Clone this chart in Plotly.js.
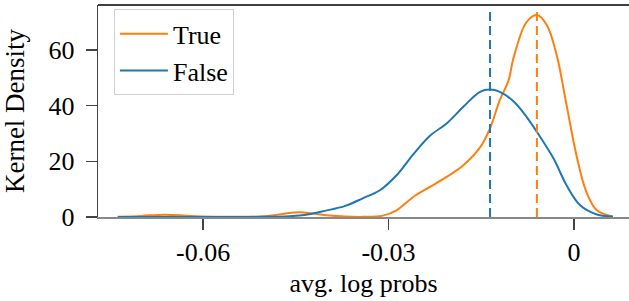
<!DOCTYPE html>
<html>
<head>
<meta charset="utf-8">
<script src="https://cdn.plot.ly/plotly-3.0.1.min.js"></script>
<style>html,body{margin:0;padding:0;background:#fff;}#chart{width:629px;height:301px;}</style>
</head>
<body>
<div id="chart"></div>
<script>
const seriesNames = ["True", "False"];
const seriesColors = ["#ff7f0e", "#1f77b4"];

const trueX = [-0.0738, -0.0700, -0.0662, -0.0620, -0.0556, -0.0500, -0.0446, -0.0420, -0.0395, -0.0341, -0.0309, -0.0287, -0.0260, -0.0233, -0.0206, -0.0179, -0.0152, -0.0136, -0.0120, -0.0106, -0.0098, -0.0077, -0.0060, -0.0044, -0.0028, -0.0012, 0.0004, 0.0020, 0.0037, 0.0063];
const trueY = [0.1, 0.4, 0.85, 0.4, 0.05, 0.3, 1.7, 1.2, 0.5, 0.05, 0.5, 2.4, 7.2, 10.8, 14.4, 18.6, 25.0, 31.8, 42.0, 49.0, 57.0, 70.0, 72.6, 69.0, 58.2, 40.2, 22.2, 9.0, 2.4, 0.2];

const falseX = [-0.0738, -0.0600, -0.0500, -0.0460, -0.0436, -0.0403, -0.0370, -0.0341, -0.0314, -0.0287, -0.0260, -0.0233, -0.0206, -0.0179, -0.0152, -0.0136, -0.0120, -0.0098, -0.0080, -0.0060, -0.0033, -0.0012, 0.0010, 0.0037, 0.0063];
const falseY = [0, 0, 0.05, 0.3, 0.7, 2.2, 4.0, 6.8, 9.6, 15.0, 22.5, 29.2, 33.6, 39.6, 45.0, 45.8, 45.0, 41.6, 37.0, 30.6, 21.0, 11.4, 4.2, 0.9, 0.1];

const seriesMeans = [-0.0060, -0.01358];

const xTickVals = [-0.06, -0.03, 0];
const xTickText = ["-0.06", "-0.03", "0"];
const yTickVals = [0, 20, 40, 60];
const yTickText = ["0", "20", "40", "60"];

const xs = [trueX, falseX];
const ys = [trueY, falseY];

const traces = seriesNames.map((n, i) => ({
  x: xs[i], y: ys[i], name: n, type: "scatter", mode: "lines",
  line: {color: seriesColors[i], width: 2, shape: "spline", smoothing: 1.0}
}));

const shapes = seriesMeans.map((m, i) => ({
  type: "line", xref: "x", yref: "paper", x0: m, x1: m, y0: 0, y1: 0.985,
  line: {color: seriesColors[i], width: 2, dash: "9px,5px"}
}));
shapes.push({type: "line", xref: "paper", yref: "paper", x0: 0, x1: 1, y0: 1, y1: 1, line: {color: "#000", width: 1.5}});

const font = {family: "Liberation Serif, Times New Roman, serif", size: 26, color: "#000"};
const ytitleFont = {family: "Liberation Serif, Times New Roman, serif", size: 27, color: "#000"};

const layout = {
  width: 629, height: 301,
  margin: {l: 98, r: 0, t: 5, b: 84},
  paper_bgcolor: "#fff", plot_bgcolor: "#fff",
  font: font,
  showlegend: true,
  legend: {x: 0.03, y: 0.98, xanchor: "left", yanchor: "top", bgcolor: "#fff",
           bordercolor: "#d0d0d0", borderwidth: 1, font: font, tracegroupgap: 0,
           itemwidth: 48},
  xaxis: {
    range: [-0.077, 0.0089], showgrid: false, zeroline: false,
    tickmode: "array", tickvals: xTickVals, ticktext: xTickText, tickfont: font,
    ticks: "outside", ticklen: 11, tickwidth: 1.3, tickcolor: "#444",
    showline: true, linecolor: "#888", linewidth: 1.5,
    title: {text: "avg. log probs", font: font, standoff: 8}
  },
  yaxis: {
    range: [0, 76.2], showgrid: false, zeroline: false,
    tickmode: "array", tickvals: yTickVals, ticktext: yTickText, tickfont: font,
    ticks: "outside", ticklen: 11, tickwidth: 1.3, tickcolor: "#444",
    ticklabelstandoff: 6,
    showline: true, linecolor: "#444", linewidth: 1.3,
    title: {text: "Kernel Density", font: ytitleFont, standoff: 20}
  },
  shapes: shapes
};

Plotly.newPlot("chart", traces, layout, {displayModeBar: false, staticPlot: true});
</script>
</body>
</html>
